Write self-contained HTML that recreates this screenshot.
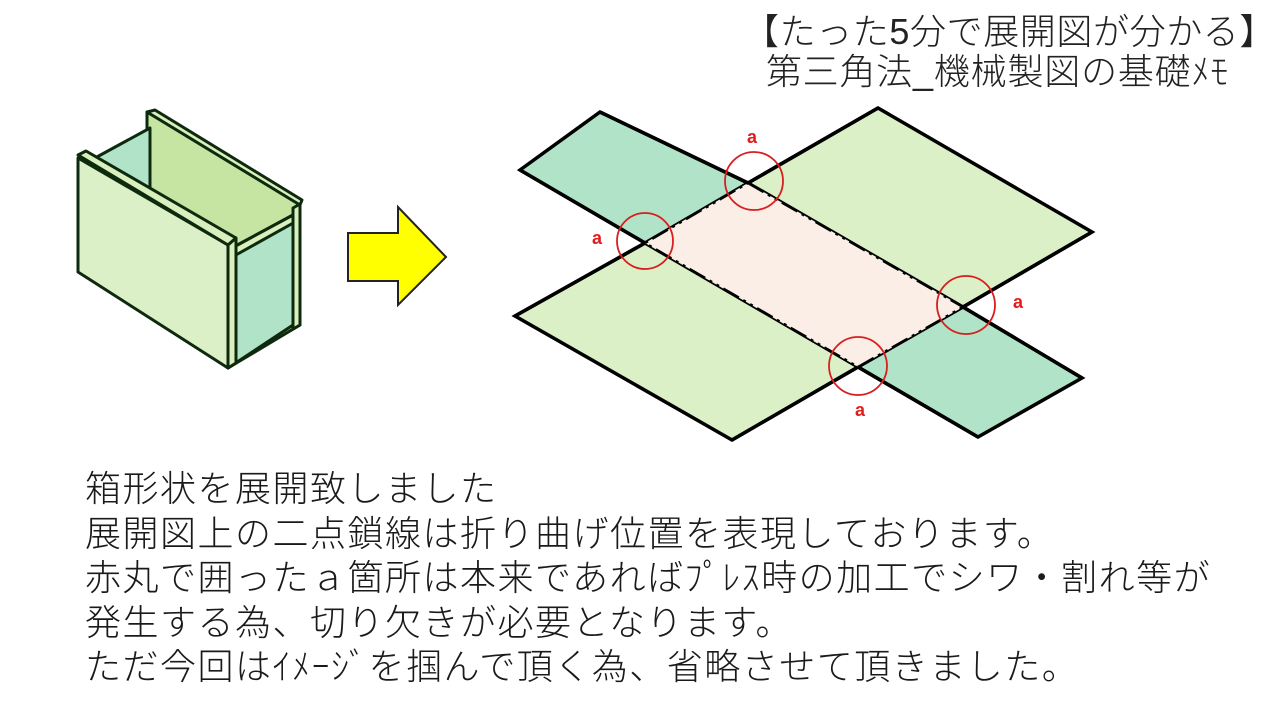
<!DOCTYPE html>
<html><head><meta charset="utf-8"><style>
body{margin:0;width:1280px;height:720px;background:#fff;overflow:hidden;position:relative;font-family:"Liberation Sans","Noto Sans CJK JP",sans-serif;}
.t{position:absolute;white-space:nowrap;color:#222;font-weight:300;}
</style></head><body>
<svg width="1280" height="720" style="position:absolute;left:0;top:0">
<!-- box -->
<g stroke="#0e2a0e" stroke-width="3" stroke-linejoin="round">
<polygon points="147,112 300,202 300,325 228,368 147,230" fill="#c6e5a3"/>
<polygon points="147,112 155,110 302,200 300,205" fill="#d9efbd"/>
<polygon points="95,158 150,128 150,245 95,270" fill="#b1e3c8"/>
<polygon points="228,250 293,215 293,325 228,368" fill="#b1e3c8"/>
<polygon points="232,248 293,215 295,222 234,256" fill="#d9efbd"/>
<polygon points="293,208 300,204 300,325 293,329" fill="#d9efbd"/>
<polygon points="78,158 228,245 228,368 78,272" fill="#dcf0c8"/>
<polygon points="78,155 86,151 236,238 228,245" fill="#d9efbd"/>
<polygon points="228,245 236,238 236,363 228,368" fill="#d9efbd"/>
</g>
<!-- arrow -->
<polygon points="348,233 398,233 398,207 446,257 398,305 398,281 348,281" fill="#ffff00" stroke="#222" stroke-width="2"/>
<!-- net -->
<g stroke="#000" stroke-width="3.5" stroke-linejoin="miter">
<polygon points="520,170 600,112 748,183 645,243" fill="#b1e3c8"/>
<polygon points="748,183 878,108 1092,232 963,307" fill="#dcf0c8"/>
<polygon points="645,243 858,367 732,440 515,316" fill="#dcf0c8"/>
<polygon points="963,307 1082,378 978,437 858,367" fill="#b1e3c8"/>
</g>
<polygon points="748,183 963,307 858,367 645,243" fill="#fbeee6"/>
<g stroke="#000" stroke-width="2.5" stroke-dasharray="18,5,3,5,3,5" fill="none">
<polyline points="748,183 963,307 858,367 645,243 748,183"/>
</g>
<g stroke="#000" stroke-width="3.5">
<line x1="600" y1="112" x2="748" y2="183"/><line x1="748" y1="183" x2="878" y2="108"/>
<line x1="520" y1="170" x2="645" y2="243"/><line x1="645" y1="243" x2="515" y2="316"/>
<line x1="1092" y1="232" x2="963" y2="307"/><line x1="963" y1="307" x2="1082" y2="378"/>
<line x1="732" y1="440" x2="858" y2="367"/><line x1="858" y1="367" x2="978" y2="437"/>
</g>
<g stroke="#d81e1e" stroke-width="1.8" fill="none">
<circle cx="754" cy="181" r="29"/><circle cx="645" cy="241" r="28"/>
<circle cx="966" cy="305" r="29"/><circle cx="858" cy="366" r="29"/>
</g>
<g fill="#e21b1b" font-family="Liberation Sans" font-weight="bold" font-size="18" text-anchor="middle">
<text x="752" y="143">a</text><text x="597" y="244">a</text><text x="1018" y="308">a</text><text x="860" y="416">a</text>
</g>
</svg>
<div class="t" style="right:4px;top:12px;font-size:36px;line-height:40px;text-align:center;letter-spacing:0.6px">【たった5分で展開図が分かる】<br><span style="display:inline-block;margin-right:24px;letter-spacing:0.8px">第三角法_機械製図の基礎ﾒﾓ</span></div>
<div class="t" style="left:85px;top:467px;font-size:36px;line-height:44.5px;color:#1a1a1a;letter-spacing:1.5px">箱形状を展開致しました<br>展開図上の二点鎖線は折り曲げ位置を表現しております。<br>赤丸で囲ったａ箇所は本来であればﾌﾟﾚｽ時の加工でシワ・割れ等が<br>発生する為、切り欠きが必要となります。<br>ただ今回はｲﾒｰｼﾞを掴んで頂く為、省略させて頂きました。</div>
</body></html>
